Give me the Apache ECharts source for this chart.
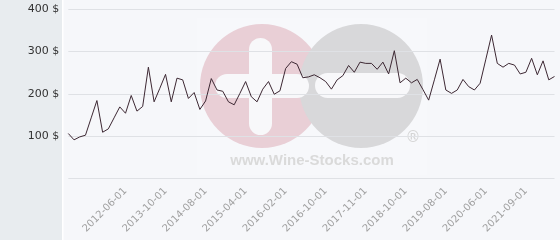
<!DOCTYPE html>
<html><head><meta charset="utf-8">
<script src="https://cdn.jsdelivr.net/npm/echarts@6/dist/echarts.min.js"></script>
<style>html,body{margin:0;padding:0;background:#f6f7fa}#c{width:560px;height:240px}</style>
</head><body><div id="c"></div>
<script>
const categories = [
 '2010-12-01','2011-01-01','2011-03-01','2011-05-01','2011-06-01','2011-09-01','2011-10-01','2011-12-01','2012-02-01','2012-04-01',
 '2012-06-01','2012-09-01','2012-11-01','2013-01-01','2013-03-01','2013-05-01','2013-07-01',
 '2013-10-01','2013-11-01','2014-01-01','2014-02-01','2014-04-01','2014-05-01','2014-06-01',
 '2014-08-01','2014-09-01','2014-10-01','2014-11-01','2014-12-01','2015-02-01','2015-03-01',
 '2015-04-01','2015-05-01','2015-06-01','2015-09-01','2015-10-01','2015-11-01','2015-12-01',
 '2016-02-01','2016-03-01','2016-04-01','2016-05-01','2016-06-01','2016-07-01','2016-09-01',
 '2016-10-01','2016-12-01','2017-02-01','2017-04-01','2017-06-01','2017-07-01','2017-09-01',
 '2017-11-01','2017-12-01','2018-02-01','2018-03-01','2018-05-01','2018-06-01','2018-09-01',
 '2018-10-01','2018-11-01','2018-12-01','2019-02-01','2019-03-01','2019-05-01','2019-06-01',
 '2019-08-01','2019-09-01','2019-10-01','2019-12-01','2020-01-01','2020-03-01','2020-04-01',
 '2020-06-01','2020-07-01','2020-09-01','2020-11-01','2021-01-01','2021-03-01','2021-06-01',
 '2021-09-01','2021-10-01','2021-12-01','2022-02-01','2022-04-01','2022-06-01'
];
const prices = [
 106,91,98,102,143,184,109,117,143,169,
 154,196,159,170,263,181,213,
 246,181,237,233,189,203,163,
 183,236,209,206,181,174,201,
 229,193,181,211,229,199,207,
 260,276,270,238,240,245,238,
 229,211,233,243,267,251,275,
 272,272,258,275,247,302,226,
 237,226,234,210,185,233,282,
 209,201,209,234,217,209,225,
 282,339,272,263,272,268,247,
 251,284,245,278,233,241
];
const yTicks = [0, 100, 200, 300, 400];
const labelStart = 10, labelStep = 7;

const chart = echarts.init(document.getElementById('c'), null, {renderer:'canvas'});
chart.setOption({
  backgroundColor: '#f6f7fa',
  animation: false,
  graphic: [
    {type:'rect', z:-10, shape:{x:0,y:0,width:62,height:240}, style:{fill:'#e8ecef'}},
    {type:'rect', z:-10, shape:{x:62,y:0,width:1.5,height:240}, style:{fill:'#ffffff'}},
    {type:'rect', z:-9, shape:{x:197,y:18,width:230,height:157}, style:{fill:'rgba(255,255,255,0.2)'}},
    {type:'circle', z:-8, shape:{cx:262,cy:86,r:62}, style:{fill:'#e9cfd6'}},
    {type:'circle', z:-7, shape:{cx:361,cy:86,r:62}, style:{fill:'#d8d8da'}},
    {type:'rect', z:-6, shape:{x:249,y:38,width:23,height:97,r:11.5}, style:{fill:'#f8f8fa'}},
    {type:'rect', z:-6, shape:{x:215,y:74,width:94,height:24,r:12}, style:{fill:'#f8f8fa'}},
    {type:'rect', z:-6, shape:{x:315,y:73,width:95,height:25,r:12.5}, style:{fill:'#f8f8fa'}},
    {type:'text', z:-6, x:312, y:161, style:{text:'www.Wine-Stocks.com', fill:'#dadada', font:'bold 15px "Liberation Sans", Arial, sans-serif', textAlign:'center', textVerticalAlign:'middle'}},
    {type:'text', z:-6, x:413, y:138, style:{text:'®', fill:'#d4d4d4', font:'15px "DejaVu Sans", sans-serif', textAlign:'center', textVerticalAlign:'middle'}}
  ],
  grid: {left:68.3, right:5.5, top:9.3, bottom:61.7, containLabel:false},
  xAxis: {
    type:'category', data: categories, boundaryGap:false,
    axisLine:{show:false}, axisTick:{show:false},
    axisLabel:{
      rotate:45, margin:11, color:'#a0a0a0', fontSize:10, fontFamily:'DejaVu Sans',
      interval: function(i){ return i >= labelStart && (i - labelStart) % labelStep === 0; }
    },
    splitLine:{show:false}
  },
  yAxis: {
    type:'value', min: yTicks[0], max: yTicks[yTicks.length-1], interval: 100,
    axisLine:{show:false}, axisTick:{show:false},
    axisLabel:{margin:9, color:'#333', fontSize:11, fontFamily:'DejaVu Sans',
      formatter: function(v){ return v === 0 ? '' : v + ' $'; }},
    splitLine:{lineStyle:{color:'#dfe1e5', width:1}}
  },
  series: [{
    type:'line', data: prices, symbol:'none', smooth:false,
    lineStyle:{color:'#3d2833', width:1}
  }]
});
</script></body></html>
